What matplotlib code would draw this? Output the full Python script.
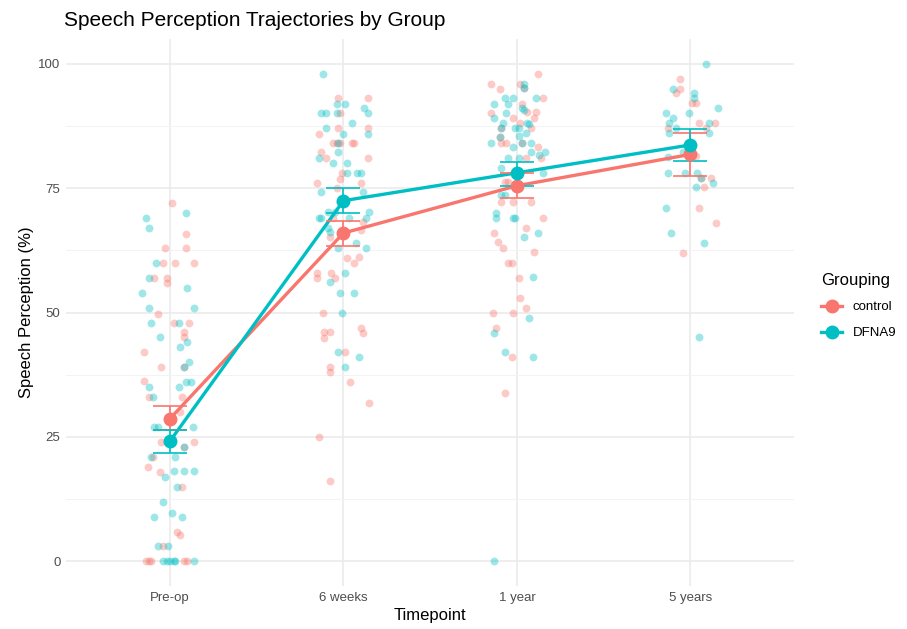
import numpy as np
import matplotlib
matplotlib.use("Agg")
import matplotlib.pyplot as plt
from matplotlib.lines import Line2D

plt.rcParams['font.family'] = ['Liberation Sans', 'DejaVu Sans']

timepoints = ["Pre-op", "6 weeks", "1 year", "5 years"]
groups = ["control", "DFNA9"]
colors = {"control": "#F8766D", "DFNA9": "#00BFC4"}

# individual scores (value) with the horizontal jitter seen in the picture (category units)
control_preop = [72.1, 65.9, 63.0, 63.0, 60, 60, 60, 57, 57, 56, 49.8, 48, 48, 46.1, 45, 42, 39.1, 39.1,
                 36.2, 33.1, 33.1, 30, 24, 24, 24, 23, 20.9, 18.9, 18, 15, 6.0, 5.2, 3.1, 0, 0, 0, 0, 0]
control_preop_jit = [0.01, 0.09, -0.03, 0.09, -0.04, 0.03, 0.14, -0.09, -0.02, -0.02, -0.07, 0.02, 0.11, 0.08,
                     0.08, -0.15, -0.05, 0.08, -0.15, -0.12, 0.07, 0.06, -0.05, -0.02, 0.14, 0.08, -0.10, -0.13,
                     -0.06, 0.07, 0.04, 0.06, -0.04, -0.14, -0.12, -0.11, 0.08, 0.10]
dfna9_preop = [69.1, 70.0, 67.1, 60, 57, 54, 55, 51, 51, 48, 48, 45.1, 44.1, 43.1, 40, 39.1, 35.1, 35.1, 36,
               36.1, 33.1, 27, 27, 27, 23, 20.9, 21, 17, 18.2, 18.2, 18.2, 15, 11.9, 9.8, 8.9, 8.9, 3.1, 3.1,
               0, 0, 0, 0, 0, 0]
dfna9_preop_jit = [-0.14, 0.09, -0.12, -0.08, -0.12, -0.16, 0.10, -0.12, 0.14, -0.11, 0.05, -0.06, 0.10, 0.06,
                   0.11, 0.08, -0.12, 0.05, 0.09, 0.12, -0.10, -0.09, -0.07, 0.13, 0.08, 0.03, -0.11, -0.03,
                   0.02, 0.08, 0.14, 0.04, -0.04, 0.01, -0.09, 0.07, -0.07, -0.01, -0.04, -0.02, 0.0, 0.02,
                   0.03, 0.14]

control_6w = [93.1, 93.1, 90.1, 87.2, 87.2, 86, 84, 84, 84, 84, 84, 82.2, 81.1, 81.1, 78, 76.9, 76.1, 76.1,
              75, 69.1, 68.3, 66.6, 65.1, 60.9, 60, 61.1, 58, 57, 58, 56.9, 50, 46.1, 46.1, 44.9, 47, 45.9,
              42, 39.1, 38, 36.1, 31.9, 25, 16.1]
control_6w_jit = [-0.03, 0.14, -0.02, -0.03, 0.14, -0.14, -0.06, -0.04, -0.02, 0.05, 0.06, -0.13, -0.10, 0.14,
                  -0.01, -0.02, -0.15, 0.10, -0.04, -0.06, 0.11, 0.10, -0.08, 0.02, 0.06, 0.09, -0.15, -0.15,
                  -0.07, -0.05, -0.12, -0.11, -0.08, -0.11, 0.10, 0.11, 0.01, -0.08, -0.08, 0.04, 0.15,
                  -0.14, -0.08]
dfna9_6w = [97.9, 92, 92, 90.1, 90.1, 90.1, 91.1, 90.1, 88.2, 87.2, 86, 86, 84, 82.2, 81.1, 80.1, 80.1, 78,
            78, 78, 74.2, 74.2, 72.3, 70.2, 70.2, 69.1, 69.1, 69.1, 69.1, 70.2, 67.1, 66.3, 64, 63, 63, 57.9,
            56.1, 54, 54, 50, 42, 41, 39.1]
dfna9_6w_jit = [-0.12, -0.04, 0.01, -0.13, -0.10, -0.04, 0.12, 0.14, 0.05, -0.10, 0.0, 0.14, -0.03, -0.03,
                -0.14, -0.06, 0.02, 0.02, 0.08, 0.10, -0.13, 0.11, -0.02, -0.09, -0.05, -0.14, -0.13, 0.03,
                0.13, 0.15, -0.09, -0.08, 0.07, -0.03, 0.13, 0.01, -0.08, -0.02, 0.06, -0.01, -0.03, 0.09,
                0.01]

control_1y = [97.9, 96, 95, 96, 95.1, 93.1, 91.9, 90.2, 90.3, 90.3, 89.2, 89.2, 88.2, 87.2, 87.2, 85.2, 84,
              84, 84, 83.2, 81, 81.1, 76.3, 76.3, 72.3, 72.3, 72.3, 69.1, 67.1, 66.1, 64.1, 63, 62.2, 59.9,
              59.9, 56.9, 53, 51, 50, 50, 47, 41, 33.9]
control_1y_jit = [0.12, -0.15, -0.10, 0.02, 0.04, 0.15, 0.03, -0.15, 0.06, 0.11, -0.02, 0.10, 0.02, -0.09,
                  0.08, -0.10, -0.09, -0.06, 0.03, 0.12, 0.14, 0.05, -0.07, -0.05, -0.09, -0.02, 0.08, 0.15,
                  0.05, -0.13, -0.11, -0.08, 0.10, -0.05, -0.03, 0.01, 0.02, 0.05, -0.14, -0.02, -0.12,
                  -0.03, -0.07]
dfna9_1y = [96, 95.1, 93.1, 93.1, 93.1, 91.9, 91.9, 91.1, 90.7, 90.1, 89.2, 88.2, 88.2, 87.9, 87.2, 87.2,
            87.2, 86.1, 85.5, 85.2, 84, 84, 84, 83.2, 82.2, 82.2, 81.7, 81.1, 81.1, 79, 78, 73.6, 73.6, 70,
            69.1, 69.1, 69.1, 66.1, 65.1, 57.1, 49, 46, 42.1, 41, 0]
dfna9_1y_jit = [0.04, 0.04, -0.07, -0.02, 0.11, -0.13, -0.05, 0.03, 0.04, -0.06, -0.13, -0.08, 0.06, 0.07,
                -0.09, -0.01, 0.01, 0.05, 0.01, -0.10, -0.15, 0.03, 0.08, -0.02, 0.08, 0.16, 0.13, -0.05,
                0.01, -0.09, 0.15, -0.09, -0.07, -0.12, -0.12, -0.02, -0.01, 0.12, 0.04, 0.09, 0.07, -0.13,
                -0.07, 0.09, -0.13]

control_5y = [97, 95, 94.1, 92.1, 92.1, 88.2, 88.2, 87.1, 87.1, 81.7, 81.5, 77.1, 77.1, 75.2, 71, 68.1, 62]
control_5y_jit = [-0.06, -0.06, -0.08, 0.01, 0.03, 0.05, 0.14, -0.13, 0.09, 0.01, 0.03, 0.06, 0.12, 0.08,
                  0.05, 0.15, -0.04]
dfna9_5y = [99.9, 95, 94.1, 93.1, 91.1, 90.2, 90.2, 89.1, 88.2, 88.2, 87.1, 86.1, 86.1, 82.2, 81.2, 78, 78,
            78, 77.1, 76, 75.2, 71.1, 66, 63.9, 45]
dfna9_5y_jit = [0.09, -0.10, 0.02, 0.02, 0.16, -0.14, -0.01, -0.10, -0.12, 0.11, -0.08, -0.12, 0.11, -0.04,
                -0.13, -0.13, -0.03, 0.04, 0.06, 0.13, 0.03, -0.14, -0.11, 0.08, 0.05]

# group means with +/- SE
control_mean = [28.7, 66.0, 75.5, 81.8]
control_lo = [26.4, 63.4, 73.0, 77.5]
control_hi = [31.2, 68.5, 78.0, 86.2]
dfna9_mean = [24.2, 72.5, 78.1, 83.7]
dfna9_lo = [21.8, 70.0, 75.5, 80.5]
dfna9_hi = [26.5, 75.1, 80.3, 86.9]

raw = {
    "control": [(control_preop, control_preop_jit), (control_6w, control_6w_jit),
                (control_1y, control_1y_jit), (control_5y, control_5y_jit)],
    "DFNA9": [(dfna9_preop, dfna9_preop_jit), (dfna9_6w, dfna9_6w_jit),
              (dfna9_1y, dfna9_1y_jit), (dfna9_5y, dfna9_5y_jit)],
}
summ = {"control": (control_mean, control_lo, control_hi),
        "DFNA9": (dfna9_mean, dfna9_lo, dfna9_hi)}

fig = plt.figure(figsize=(9.07, 6.29), dpi=100)
ax = fig.add_axes([0.0728, 0.068, 0.8030, 0.870])

xpos = np.arange(len(timepoints))

# jittered raw points
for g in groups:
    for i, (vals, jit) in enumerate(raw[g]):
        ax.scatter(i + np.array(jit), vals, s=32, color=colors[g], alpha=0.38,
                   linewidths=0, zorder=2)

# mean lines
for g in groups:
    m, lo, hi = summ[g]
    ax.plot(xpos, m, color=colors[g], lw=2.4, zorder=3, solid_capstyle='butt')

# error bars
for g in groups:
    m, lo, hi = summ[g]
    m = np.array(m)
    ax.errorbar(xpos, m, yerr=[m - np.array(lo), np.array(hi) - m], fmt='none',
                ecolor=colors[g], elinewidth=1.2, capsize=12, capthick=1.2, zorder=4)

# mean points
for g in groups:
    m, lo, hi = summ[g]
    ax.plot(xpos, m, 'o', color=colors[g], ms=9, zorder=5)

ax.set_xlim(-0.6, 3.6)
ax.set_ylim(-5, 105)
ax.set_xticks(xpos)
ax.set_xticklabels(timepoints)
ax.set_yticks([0, 25, 50, 75, 100])
ax.set_yticks([12.5, 37.5, 62.5, 87.5], minor=True)
ax.grid(True, which='major', color='#EBEBEB', lw=1.2)
ax.grid(True, which='minor', axis='y', color='#F3F3F3', lw=0.7)
ax.set_axisbelow(True)
for s in ax.spines.values():
    s.set_visible(False)
ax.tick_params(which='both', length=0, labelsize=9.5, labelcolor='#4D4D4D', pad=4)

ax.set_xlabel("Timepoint", fontsize=12, labelpad=3)
ax.set_ylabel("Speech Perception (%)", fontsize=12, labelpad=3)
fig.text(0.071, 0.968, "Speech Perception Trajectories by Group", fontsize=15, va='center', ha='left')

handles = [Line2D([0], [0], color=colors[g], lw=2.4, marker='o', ms=9) for g in groups]
leg = fig.legend(handles, groups, title="Grouping", loc='upper left',
                 bbox_to_anchor=(0.895, 0.58), frameon=False, fontsize=9.5,
                 title_fontsize=12, handlelength=1.6, handletextpad=0.8, labelspacing=1.05,
                 borderaxespad=0.3)
leg._legend_box.align = "left"
leg._legend_box.sep = 9

fig.savefig("out.png", dpi=100)
